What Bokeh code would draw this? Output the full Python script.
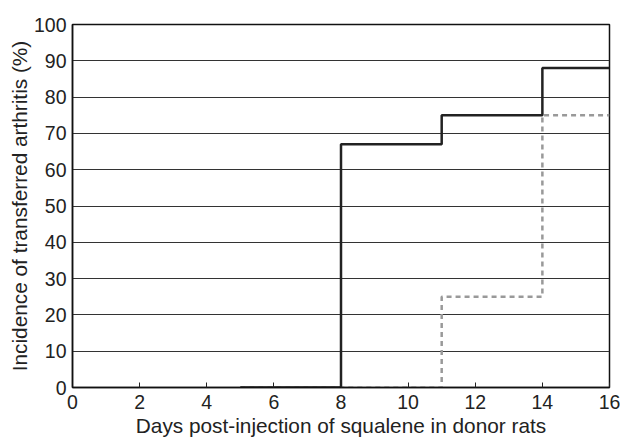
from bokeh.plotting import figure
from bokeh.embed import file_html
from bokeh.resources import INLINE
from bokeh.models import Range1d, FixedTicker

# Data
days_solid = [5, 8, 11, 14, 16]
inc_solid = [0, 67, 75, 88, 88]
days_dashed = [5, 11, 14, 16]
inc_dashed = [0, 25, 75, 75]
x_ticks = [0, 2, 4, 6, 8, 10, 12, 14, 16]
y_ticks = [0, 10, 20, 30, 40, 50, 60, 70, 80, 90, 100]

p = figure(width=620, height=441, output_backend="svg", toolbar_location=None,
           x_range=Range1d(0, 16), y_range=Range1d(0, 100),
           min_border_left=72, min_border_right=11, min_border_top=24, min_border_bottom=54)

p.step(days_dashed, inc_dashed, mode="after", line_color="#999999", line_width=2.5, line_dash="5 4")
p.step(days_solid, inc_solid, mode="after", line_color="#222222", line_width=2.5)

FONT = "Liberation Sans"
p.xaxis.ticker = FixedTicker(ticks=x_ticks)
p.yaxis.ticker = FixedTicker(ticks=y_ticks)
for ax in (p.xaxis[0], p.yaxis[0]):
    ax.major_label_text_font = FONT
    ax.major_label_text_font_size = "19.5px"
    ax.major_label_text_color = "#222222"
    ax.axis_label_text_font = FONT
    ax.axis_label_text_font_size = "20.8px"
    ax.axis_label_text_font_style = "normal"
    ax.axis_label_text_color = "#222222"
    ax.minor_tick_line_color = None
    ax.axis_line_color = "#111111"
    ax.axis_line_width = 1.5

p.xaxis.axis_label = "Days post-injection of squalene in donor rats"
p.yaxis.axis_label = "Incidence of transferred arthritis (%)"
p.xaxis.major_tick_in = 5
p.xaxis.major_tick_out = 0
p.xaxis.major_tick_line_color = "#222222"
p.yaxis.major_tick_line_color = None
p.yaxis.major_tick_in = 0
p.yaxis.major_tick_out = 0
p.yaxis.major_label_standoff = 6
p.xaxis.major_label_standoff = 7
p.xaxis.axis_label_standoff = 2
p.yaxis.axis_label_standoff = 0

p.xgrid.grid_line_color = None
p.ygrid.grid_line_color = "#333333"
p.ygrid.grid_line_width = 1.2
p.outline_line_color = "#111111"
p.outline_line_width = 1.5
p.outline_line_alpha = 1.0

open("out.html", "w").write(file_html(p, INLINE))
